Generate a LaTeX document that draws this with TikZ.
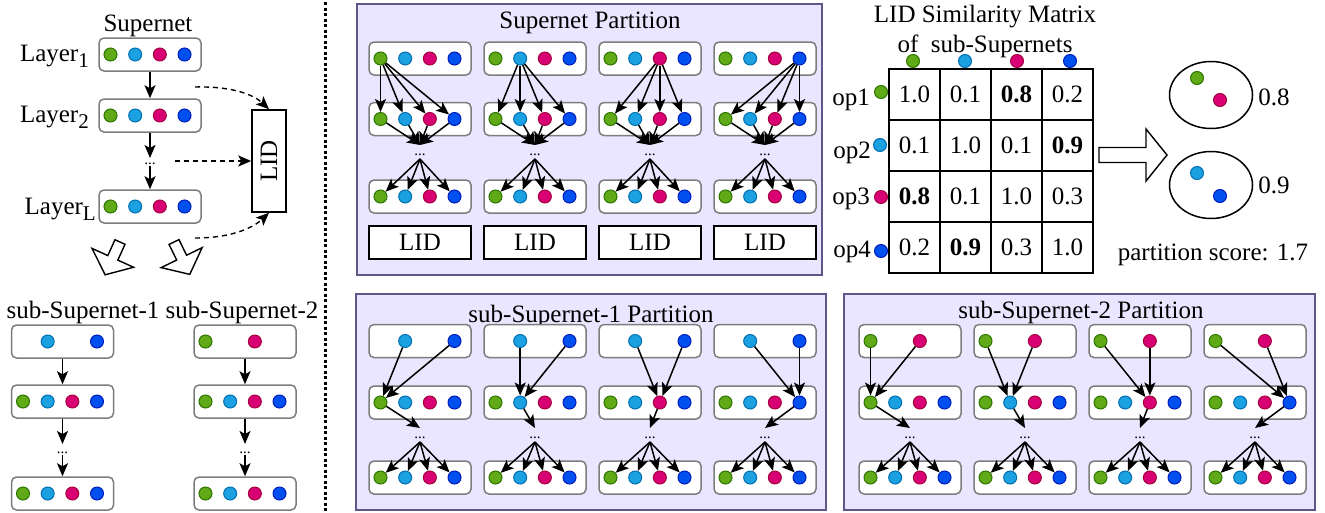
\documentclass[tikz,border=0pt]{standalone}
\usepackage{fontspec}
\setmainfont{Liberation Serif}
\usetikzlibrary{arrows.meta,shapes.geometric,calc}
\definecolor{gF}{HTML}{60A917}\definecolor{gD}{HTML}{2D7600}
\definecolor{cF}{HTML}{1BA1E2}\definecolor{cD}{HTML}{006EAF}
\definecolor{mF}{HTML}{D80073}\definecolor{mD}{HTML}{A50040}
\definecolor{bF}{HTML}{0050EF}\definecolor{bD}{HTML}{001DBC}
\definecolor{panelF}{RGB}{234,230,255}
\definecolor{panelD}{RGB}{92,88,135}
\definecolor{boxD}{RGB}{125,125,125}
\tikzset{
  dotbase/.style={circle,inner sep=0pt,minimum size=13pt,line width=1pt},
  dot1/.style={dotbase,fill=gF,draw=gD},
  dot2/.style={dotbase,fill=cF,draw=cD},
  dot3/.style={dotbase,fill=mF,draw=mD},
  dot4/.style={dotbase,fill=bF,draw=bD},
  layerbox/.style={draw=boxD,fill=white,rounded corners=5pt,line width=1.5pt,minimum width=102pt,minimum height=33pt,inner sep=0pt},
  lidbox/.style={draw=black,fill=white,line width=1.5pt,minimum width=102pt,minimum height=33pt,inner sep=0pt},
  panel/.style={draw=panelD,fill=panelF,line width=2pt,inner sep=0pt},
  arr/.style={line width=1.5pt,-{Stealth[length=13pt,width=11pt,inset=3pt]}},
  darr/.style={line width=1.4pt,dash pattern=on 5pt off 4pt,-{Stealth[length=13pt,width=11pt,inset=3pt]}},
  hollow/.style={draw=black,fill=white,line width=1.4pt,line join=miter},
  celln/.style={draw=black,line width=1.6pt,minimum width=51pt,minimum height=51pt,inner sep=0pt},
  dotsn/.style={font=\fontsize{15}{15}\selectfont,inner sep=0pt}
}
\newcommand{\layerrow}[4]{%
  \node[layerbox] (#1) at (#2,#3) {};
  \foreach \i in {#4} {
    \pgfmathsetmacro{\dx}{#2-51+11.5+24.67*(\i-1)}
    \node[dot\i] (#1-\i) at (\dx,#3) {};
  }
}
\newcommand{\lsub}[1]{\raisebox{-6pt}{\fontsize{21}{21}\selectfont #1}}
\begin{document}
\begin{tikzpicture}[x=1pt,y=-1pt,font=\fontsize{25}{30}\selectfont]
\useasboundingbox (0,0) rectangle (1325,512);
% ---------------- left: supernet ----------------
\node[anchor=base] (tSup) at (148,31) {Supernet};
\layerrow{L1}{150}{54.5}{1,2,3,4}
\layerrow{L2}{150}{115.5}{1,2,3,4}
\layerrow{LL}{150}{206.5}{1,2,3,4}
\node[anchor=base east,inner sep=0pt] (lab1) at (89,61) {Layer\lsub{1}};
\node[anchor=base east,inner sep=0pt] (lab2) at (89,122) {Layer\lsub{2}};
\node[anchor=base east,inner sep=0pt] (labL) at (96,214) {Layer\lsub{L}};
\draw[arr] (L1) -- (L2);
\node[dotsn] (dA) at (150,164) {...};
\coordinate (dAin) at (150,158);
\coordinate (dAout) at (150,166);
\draw[arr] (L2) -- (dAin);
\draw[arr] (dAout) -- (LL);
\node[draw=black,fill=white,line width=1.5pt,minimum width=34pt,minimum height=102pt,inner sep=0pt] (lidL) at (269,161) {\rotatebox{90}{LID}};
\coordinate (s1) at (195,87);
\coordinate (s2) at (175,161);
\coordinate (s3) at (195,238);
\draw[darr] (s1) .. controls (235,86) and (255,96) .. (lidL.north);
\draw[darr] (s2) -- (lidL.west);
\draw[darr] (s3) .. controls (235,238) and (255,226) .. (lidL.south);
% hollow arrows
\draw[hollow,shift={(120,242)},rotate=-114.4] (0,5.5) -- (17.4,5.5) -- (17.4,22.8) -- (36,0) -- (17.4,-22.8) -- (17.4,-5.5) -- (0,-5.5) -- cycle;
\draw[hollow,shift={(174,242)},rotate=-64] (0,5.5) -- (17.4,5.5) -- (17.4,22.8) -- (36,0) -- (17.4,-22.8) -- (17.4,-5.5) -- (0,-5.5) -- cycle;
% ---------------- left: sub-supernets ----------------
\node[anchor=base] (tA) at (83,318) {sub-Supernet-1};
\node[anchor=base] (tB) at (242,318) {sub-Supernet-2};
\layerrow{A1}{62.5}{341.5}{2,4}
\layerrow{A2}{62.5}{401.5}{1,2,3,4}
\layerrow{A3}{62.5}{493.5}{1,2,3,4}
\layerrow{B1}{245}{341.5}{1,3}
\layerrow{B2}{245}{401.5}{1,2,3,4}
\layerrow{B3}{245}{493.5}{1,2,3,4}
\foreach \n/\x in {A/62.5,B/245} {
  \draw[arr] (\n1) -- (\n2);
  \node[dotsn] (\n dots) at (\x,453) {...};
  \coordinate (\n in) at (\x,444);
  \coordinate (\n out) at (\x,455);
  \draw[arr] (\n2) -- (\n in);
  \draw[arr] (\n out) -- (\n3);
}
% divider
\draw[line width=3pt,dash pattern=on 3pt off 2.5pt] (325,2) -- (325,512);
% ---------------- panels ----------------
\node[panel,minimum width=465pt,minimum height=271pt] (P1) at (589.5,139.5) {};
\node[panel,minimum width=470pt,minimum height=216pt] (P2) at (591,402) {};
\node[panel,minimum width=471pt,minimum height=216pt] (P3) at (1079.5,402) {};
\node[anchor=base] (tP1) at (590,28) {Supernet Partition};
\node[anchor=base] (tP2) at (591,322) {sub-Supernet-1 Partition};
\node[anchor=base] (tP3) at (1081,318) {sub-Supernet-2 Partition};
% supernet partition
\foreach \k in {1,2,3,4} {
  \pgfmathsetmacro{\cx}{420+115*(\k-1)}
  \layerrow{S\k-1}{\cx}{58.5}{1,2,3,4}
  \layerrow{S\k-2}{\cx}{119}{1,2,3,4}
  \layerrow{S\k-3}{\cx}{196.5}{1,2,3,4}
  \node[lidbox] (S\k-lid) at (\cx,242.5) {LID};
  \coordinate (S\k-cv) at (\cx,145);
  \coordinate (S\k-fan) at (\cx,159);
  \node[dotsn] (S\k-dots) at (\cx,155) {...};
  \foreach \j in {1,2,3,4} {
    \draw[arr] (S\k-1-\k) -- (S\k-2-\j);
    \draw[arr] (S\k-2-\j) -- (S\k-cv);
    \draw[arr] (S\k-fan) -- (S\k-3-\j);
  }
}
% sub-supernet-1 partition
\foreach \k in {1,2,3,4} {
  \pgfmathsetmacro{\cx}{420+115*(\k-1)}
  \layerrow{U\k-1}{\cx}{341}{2,4}
  \layerrow{U\k-2}{\cx}{402.5}{1,2,3,4}
  \layerrow{U\k-3}{\cx}{477.5}{1,2,3,4}
  \coordinate (U\k-cv) at (\cx,428);
  \coordinate (U\k-fan) at (\cx,442);
  \node[dotsn] (U\k-dots) at (\cx,438) {...};
  \draw[arr] (U\k-1-2) -- (U\k-2-\k);
  \draw[arr] (U\k-1-4) -- (U\k-2-\k);
  \draw[arr] (U\k-2-\k) -- (U\k-cv);
  \foreach \j in {1,2,3,4} {
    \draw[arr] (U\k-fan) -- (U\k-3-\j);
  }
}
% sub-supernet-2 partition
\foreach \k in {1,2,3,4} {
  \pgfmathsetmacro{\cx}{910+115*(\k-1)}
  \layerrow{V\k-1}{\cx}{341}{1,3}
  \layerrow{V\k-2}{\cx}{402.5}{1,2,3,4}
  \layerrow{V\k-3}{\cx}{477.5}{1,2,3,4}
  \coordinate (V\k-cv) at (\cx,428);
  \coordinate (V\k-fan) at (\cx,442);
  \node[dotsn] (V\k-dots) at (\cx,438) {...};
  \draw[arr] (V\k-1-1) -- (V\k-2-\k);
  \draw[arr] (V\k-1-3) -- (V\k-2-\k);
  \draw[arr] (V\k-2-\k) -- (V\k-cv);
  \foreach \j in {1,2,3,4} {
    \draw[arr] (V\k-fan) -- (V\k-3-\j);
  }
}
% ---------------- matrix ----------------
\node[anchor=base] (tM1) at (985,22) {LID Similarity Matrix};
\node[anchor=base] (tM2) at (985,52) {of~~sub-Supernets};
\node[dot1] (h1) at (913,61) {};
\node[dot2] (h2) at (965,61) {};
\node[dot3] (h3) at (1017,61) {};
\node[dot4] (h4) at (1070,61) {};
\foreach [count=\n] \v in {1.0,0.1,\textbf{0.8},0.2,0.1,1.0,0.1,\textbf{0.9},\textbf{0.8},0.1,1.0,0.3,0.2,\textbf{0.9},0.3,1.0} {
  \pgfmathtruncatemacro{\r}{(\n-1)/4}
  \pgfmathtruncatemacro{\c}{\n-1-4*\r}
  \node[celln] (m-\r-\c) at (914.5+51*\c,94.5+51*\r) {\v};
}
\node[anchor=base east,inner sep=0pt] (op1) at (870,105) {op1};
\node[anchor=base east,inner sep=0pt] (op2) at (871,158) {op2};
\node[anchor=base east,inner sep=0pt] (op3) at (870,204) {op3};
\node[anchor=base east,inner sep=0pt] (op4) at (871,257) {op4};
\node[dot1] (od1) at (881,92) {};
\node[dot2] (od2) at (880,145) {};
\node[dot3] (od3) at (881,197) {};
\node[dot4] (od4) at (881,251) {};
% big right arrow
\draw[hollow] (1099,147.5) -- (1146,147.5) -- (1146,129) -- (1167,155) -- (1146,181) -- (1146,162.5) -- (1099,162.5) -- cycle;
% ellipses
\node[ellipse,draw=black,line width=1.5pt,minimum width=83pt,minimum height=67pt,inner sep=0pt] (e1) at (1211,95) {};
\node[ellipse,draw=black,line width=1.5pt,minimum width=83pt,minimum height=67pt,inner sep=0pt] (e2) at (1211,185) {};
\node[dot1] (e1a) at (1197,78) {};
\node[dot3] (e1b) at (1220,100) {};
\node[dot2] (e2a) at (1197,173) {};
\node[dot4] (e2b) at (1220,196) {};
\node (v1) at (1274,97) {0.8};
\node (v2) at (1274,185) {0.9};
\node[anchor=base] (ps) at (1213,260) {partition score: 1.7};
\end{tikzpicture}
\end{document}
